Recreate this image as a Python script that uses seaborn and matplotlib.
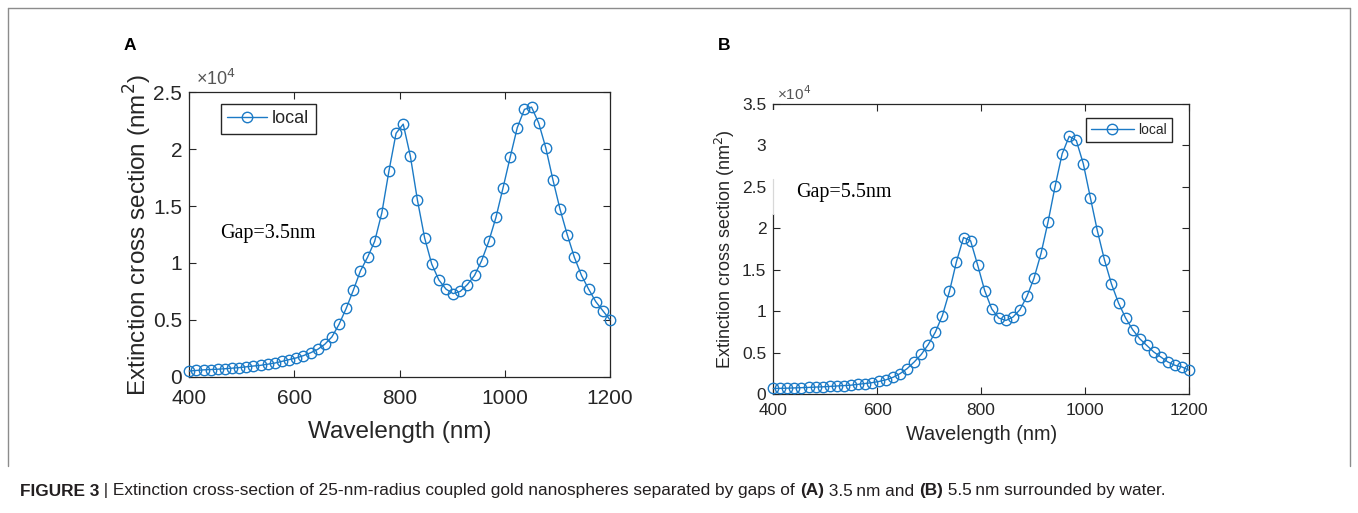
import matplotlib
matplotlib.use("Agg")
import matplotlib.pyplot as plt
from matplotlib.ticker import FuncFormatter
from matplotlib.lines import Line2D
from matplotlib.patches import Rectangle
import seaborn as sns
import pandas as pd

# wavelength samples (nm), same grid for both panels
wavelength = [400.0, 413.6, 427.1, 440.7, 454.2, 467.8, 481.4, 494.9, 508.5, 522.0,
              535.6, 549.2, 562.7, 576.3, 589.8, 603.4, 616.9, 630.5, 644.1, 657.6,
              671.2, 684.7, 698.3, 711.9, 725.4, 739.0, 752.5, 766.1, 779.7, 793.2,
              806.8, 820.3, 833.9, 847.5, 861.0, 874.6, 888.1, 901.7, 915.3, 928.8,
              942.4, 955.9, 969.5, 983.1, 996.6, 1010.2, 1023.7, 1037.3, 1050.8, 1064.4,
              1078.0, 1091.5, 1105.1, 1118.6, 1132.2, 1145.8, 1159.3, 1172.9, 1186.4, 1200.0]

# extinction cross section, units of 1e4 nm^2
ext_gap35 = [0.05, 0.055, 0.06, 0.063, 0.066, 0.07, 0.075, 0.08, 0.087, 0.094,
             0.10, 0.11, 0.12, 0.135, 0.15, 0.165, 0.185, 0.21, 0.24, 0.285,
             0.35, 0.46, 0.60, 0.76, 0.93, 1.05, 1.19, 1.44, 1.81, 2.14,
             2.22, 1.94, 1.55, 1.22, 0.99, 0.85, 0.77, 0.73, 0.75, 0.81,
             0.89, 1.02, 1.19, 1.40, 1.66, 1.93, 2.19, 2.35, 2.37, 2.23,
             2.01, 1.73, 1.47, 1.25, 1.05, 0.89, 0.77, 0.66, 0.58, 0.50]

ext_gap55 = [0.07, 0.072, 0.074, 0.077, 0.08, 0.083, 0.087, 0.09, 0.095, 0.10,
             0.105, 0.11, 0.12, 0.13, 0.14, 0.155, 0.175, 0.205, 0.25, 0.31,
             0.39, 0.48, 0.60, 0.75, 0.95, 1.24, 1.60, 1.89, 1.85, 1.56,
             1.25, 1.03, 0.92, 0.89, 0.93, 1.02, 1.18, 1.40, 1.70, 2.08,
             2.51, 2.90, 3.11, 3.06, 2.78, 2.37, 1.97, 1.62, 1.33, 1.10,
             0.92, 0.78, 0.67, 0.59, 0.51, 0.45, 0.39, 0.35, 0.33, 0.29]

caption = [("FIGURE 3", "bold"), (" | Extinction cross-section of 25-nm-radius coupled gold "
            "nanospheres separated by gaps of ", "normal"), ("(A)", "bold"),
           (" 3.5\u2009nm and ", "normal"), ("(B)", "bold"), (" 5.5\u2009nm surrounded by water.", "normal")]

sns.set_theme(style="ticks")
plt.rcParams["font.family"] = ["Liberation Sans", "DejaVu Sans"]

blue = "#1b7ac6"
dark = "#262626"
W, H = 1358, 513

fig = plt.figure(figsize=(W / 100, H / 100), dpi=100)

def painel(rect, ext, ymax, tick_fs, xpad, lab_fs, xlab_y, ylab_x, leg_fs, hlen, gap_txt, gap_xy,
           leg_loc, leg_anchor, off_xy, off_fs):
    ax = fig.add_axes(rect)
    df = pd.DataFrame({"wl": wavelength, "ext": ext})
    sns.lineplot(data=df, x="wl", y="ext", ax=ax, color=blue, lw=1.0, marker="o",
                 markersize=7.5, markerfacecolor="none", markeredgecolor=blue,
                 markeredgewidth=1.0, label="local", clip_on=False, zorder=3)
    ax.set_xlim(400, 1200)
    ax.set_ylim(0, ymax)
    ax.set_xticks([400, 600, 800, 1000, 1200])
    ax.set_yticks([i * 0.5 for i in range(int(ymax * 2) + 1)])
    ax.yaxis.set_major_formatter(FuncFormatter(lambda v, p: "%g" % v))
    ax.tick_params(direction="in", top=True, right=True, length=5, width=0.8,
                   colors=dark, labelsize=tick_fs, pad=5)
    ax.tick_params(axis="x", pad=xpad)
    for s in ax.spines.values():
        s.set_color(dark)
        s.set_linewidth(0.9)
    ax.set_xlabel("Wavelength (nm)", fontsize=lab_fs[0], color=dark, va="center")
    ax.set_ylabel("Extinction cross section (nm$^2$)", fontsize=lab_fs[1], color=dark, va="center")
    ax.xaxis.set_label_coords(0.5, xlab_y)
    ax.yaxis.set_label_coords(ylab_x, 0.5)
    leg = ax.legend(loc=leg_loc, bbox_to_anchor=leg_anchor, borderaxespad=0, fancybox=False,
                    framealpha=1, edgecolor=dark, fontsize=leg_fs, handlelength=hlen,
                    handletextpad=0.3, borderpad=0.35)
    leg.get_frame().set_linewidth(1.0)
    for t in leg.get_texts():
        t.set_color(dark)
    ax.text(gap_xy[0], gap_xy[1], gap_txt, transform=ax.transAxes, fontsize=14.5,
            family="Liberation Serif", color="black", va="center", ha="left")
    ax.text(off_xy[0], off_xy[1], "\u00d710$^4$", transform=ax.transAxes, fontsize=off_fs,
            color="#555555", va="bottom", ha="left")
    return ax

axA = painel([189.3 / W, 1 - 376.7 / H, 420.7 / W, 284.4 / H], ext_gap35, 2.5, 15, 9, (17.5, 17.5),
             (376.7 - 432) / 284.4, (138 - 189.3) / 420.7, 13, 2.2,
             "Gap=3.5nm", (0.073, 0.505), "upper left", (0.0746, 0.959), (0.015, 1.01), 13)
axB = painel([773.3 / W, 1 - 394.3 / H, 415.7 / W, 290.3 / H], ext_gap55, 3.5, 12.5, 6, (14.3, 13),
             (394.3 - 435) / 290.3, (725 - 773.3) / 415.7, 10, 3.1,
             "Gap=5.5nm", (0.056, 0.695), "upper right", (0.958, 0.952), (0.01, 1.005), 11)

# white patch hides part of the left spine of panel B (as in the original scan)
axB.add_patch(Rectangle((-0.004, 2.17 / 3.5), 0.024, (3.43 - 2.17) / 3.5, transform=axB.transAxes,
                        facecolor="white", edgecolor="none", clip_on=False, zorder=5))
axB.add_line(Line2D([0, 0], [2.17 / 3.5, 2.6 / 3.5], transform=axB.transAxes, color="#d8d8d8",
                    lw=0.9, clip_on=False, zorder=6))

fig.text(124 / W, 1 - 45 / H, "A", fontsize=12.5, weight="bold", va="center", ha="left", color="black")
fig.text(718 / W, 1 - 45 / H, "B", fontsize=12.5, weight="bold", va="center", ha="left", color="black")

# frame around the figure
for xs, ys in [((8, 8), (466, 8)), ((8, 1350), (8, 8)), ((1350, 1350), (8, 466))]:
    fig.add_artist(Line2D([x / W for x in xs], [1 - y / H for y in ys], color="#8c8c8c", lw=1.0))

# caption built piece by piece (mixed bold / regular)
renderer = fig.canvas.get_renderer()
x = 20
for txt, w in caption:
    t = fig.text(x / W, 1 - 491 / H, txt, fontsize=12.4, weight=w, va="center", ha="left",
                 family=["Liberation Sans Narrow", "Liberation Sans", "DejaVu Sans"], color="#231f20")
    x = t.get_window_extent(renderer).x1

fig.savefig("out.png", dpi=100)
